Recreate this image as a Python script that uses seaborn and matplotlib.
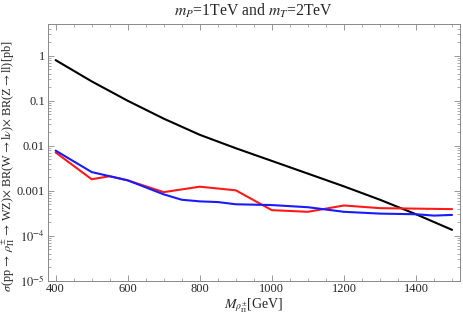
import matplotlib
matplotlib.use("Agg")
import matplotlib.pyplot as plt
import matplotlib.ticker as mticker
import pandas as pd
import seaborn as sns

# black curve: total
mass_black = [400, 500, 600, 700, 800, 900, 1000, 1100, 1200, 1300, 1400, 1500]
xsec_black = [0.80, 0.27, 0.100, 0.040, 0.0175, 0.0088, 0.0046, 0.0024, 0.00125,
              0.00063, 0.00030, 0.000135]

# red curve
mass_red = [400, 500, 550, 600, 700, 800, 900, 1000, 1100, 1200, 1300, 1400, 1500]
xsec_red = [0.0071, 0.0018, 0.0021, 0.0017, 0.00093, 0.00123, 0.00102, 0.00037,
            0.00034, 0.00047, 0.00041, 0.00040, 0.00039]

# blue curve
mass_blue = [400, 500, 600, 700, 750, 800, 850, 900, 1000, 1100, 1200, 1300, 1400,
             1450, 1500]
xsec_blue = [0.0078, 0.0026, 0.0017, 0.00083, 0.00063, 0.00058, 0.00056, 0.00050,
             0.00048, 0.00043, 0.00034, 0.00031, 0.00030, 0.00028, 0.00029]

ytick_vals = [1e-5, 1e-4, 1e-3, 1e-2, 1e-1, 1]
ytick_labels = [r"$10^{-5}$", r"$10^{-4}$", "0.001", "0.01", "0.1", "1"]

sns.set_style("ticks")
plt.rcParams["font.family"] = ["Liberation Serif", "DejaVu Serif"]
plt.rcParams["mathtext.fontset"] = "stix"

fig = plt.figure(figsize=(4.63, 3.17), dpi=100)
ax = fig.add_axes([0.103, 0.1145, 0.8905, 0.8095])

df_black = pd.DataFrame({"m": mass_black, "s": xsec_black})
df_red = pd.DataFrame({"m": mass_red, "s": xsec_red})
df_blue = pd.DataFrame({"m": mass_blue, "s": xsec_blue})

sns.lineplot(data=df_black, x="m", y="s", ax=ax, color="black", lw=1.5)
sns.lineplot(data=df_red, x="m", y="s", ax=ax, color="#ff1a1a", lw=1.5)
sns.lineplot(data=df_blue, x="m", y="s", ax=ax, color="#1a1aff", lw=1.5)

ax.set_yscale("log")
ax.set_xlim(378, 1522)
ax.set_ylim(1e-5, 5.06)

ax.xaxis.set_major_locator(mticker.MultipleLocator(200))
ax.xaxis.set_minor_locator(mticker.MultipleLocator(50))
ax.set_yticks(ytick_vals)
ax.set_yticklabels(ytick_labels)
ax.yaxis.set_minor_locator(mticker.LogLocator(base=10, subs=range(2, 10)))
ax.yaxis.set_minor_formatter(mticker.NullFormatter())

ax.tick_params(which="both", direction="in", top=True, right=True,
               color="#888888", labelsize=9, pad=2)
ax.tick_params(which="major", length=4, width=0.6)
ax.tick_params(which="minor", length=2, width=0.5)
for sp in ax.spines.values():
    sp.set_color("#888888")
    sp.set_linewidth(0.7)

ax.set_title(r"$m_P$=1TeV and $m_T$=2TeV", fontsize=11.3, pad=6)
ax.set_xlabel(r"$M_{\rho_{\Pi}^{\pm}}$[GeV]", fontsize=10, labelpad=1)
ax.set_ylabel(r"$\sigma$(pp$\,\rightarrow\,\rho_{\Pi}^{\pm}\,\rightarrow\,$WZ)$\times$ BR(W$\rightarrow$l$\nu$)$\times$ BR(Z$\rightarrow$ll)[pb]",
              fontsize=8.8)
ax.yaxis.set_label_coords(-0.074, 0.447)

fig.savefig("out.png", dpi=100)
